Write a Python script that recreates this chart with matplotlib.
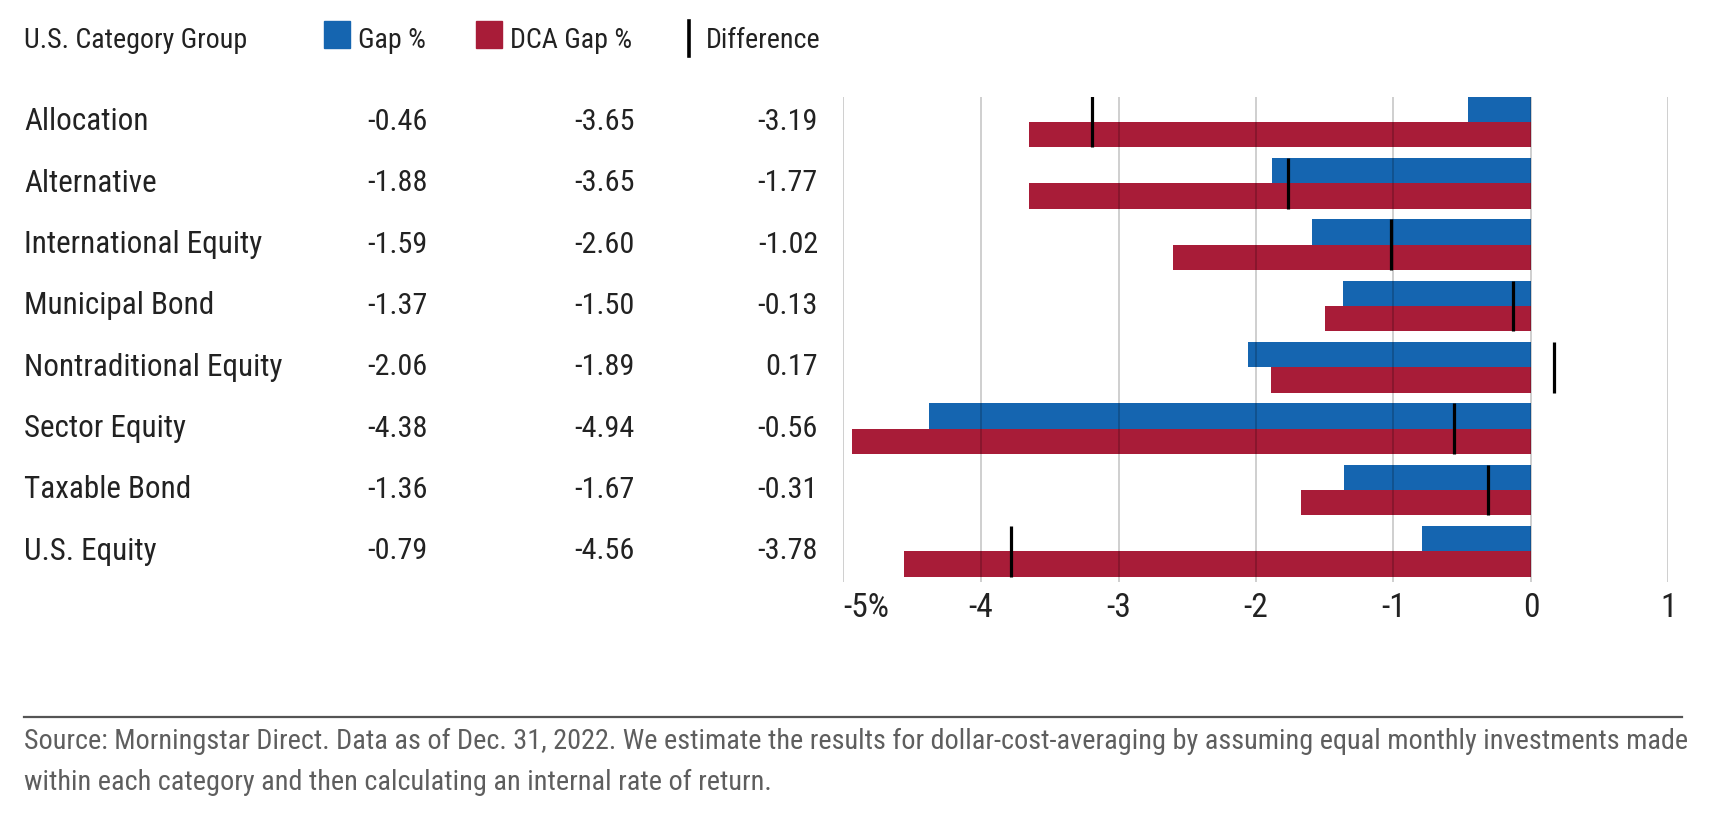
import matplotlib
matplotlib.use("Agg")
import matplotlib.pyplot as plt
import matplotlib.transforms as mtransforms
from matplotlib import font_manager as fm
from matplotlib.patches import Rectangle
from matplotlib.lines import Line2D

# ---------------- data ----------------
categories = ["Allocation", "Alternative", "International Equity", "Municipal Bond",
              "Nontraditional Equity", "Sector Equity", "Taxable Bond", "U.S. Equity"]
gap = [-0.46, -1.88, -1.59, -1.37, -2.06, -4.38, -1.36, -0.79]
dca_gap = [-3.65, -3.65, -2.60, -1.50, -1.89, -4.94, -1.67, -4.56]
difference = [-3.19, -1.77, -1.02, -0.13, 0.17, -0.56, -0.31, -3.78]
x_ticks = [-5, -4, -3, -2, -1, 0, 1]
x_tick_labels = ["-5%", "-4", "-3", "-2", "-1", "0", "1"]
header = "U.S. Category Group"
legend_labels = ["Gap %", "DCA Gap %", "Difference"]
source_lines = [
    "Source: Morningstar Direct. Data as of Dec. 31, 2022. We estimate the results for "
    "dollar-cost-averaging by assuming equal monthly investments made",
    "within each category and then calculating an internal rate of return.",
]

BLUE = "#1565b0"
RED = "#a81c38"
TEXT = "#222222"
GREY = "#5e5e5e"

# ---------------- font choice ----------------
names = {f.name for f in fm.fontManager.ttflist}
FAM, ST = "Roboto", "normal"
for cand in ["Roboto Condensed", "Liberation Sans Narrow", "Open Sans Condensed"]:
    if cand in names:
        FAM = cand
        break
else:
    if any(f.name == "DejaVu Sans" and f.stretch in ("condensed", "semi-condensed")
           for f in fm.fontManager.ttflist):
        FAM, ST = "DejaVu Sans", "condensed"
    elif "Roboto" not in names:
        FAM = "DejaVu Sans"

W, H = 1724, 814
fig = plt.figure(figsize=(W / 100, H / 100), dpi=100)
renderer = fig.canvas.get_renderer()


def fx(px):
    return px / W


def fy(py):
    return 1 - py / H


def text_width(s, size):
    t = fig.text(0, 0, s, fontsize=size, family=FAM, stretch=ST)
    w = t.get_window_extent(renderer).width
    t.remove()
    return w


def fit(s, target, base=20.0):
    return base * target / text_width(s, base)


row_size = fit(categories[0], 124)
num_size = fit("-0.46", 60)
header_size = fit(header, 223)
foot_size = fit(source_lines[0], 1658)
tick_size = row_size * 1.08

# ---------------- axes ----------------
ax_left, ax_right = 843.5, 1668.5
ax_top, ax_bottom = 96.5, 582
ax = fig.add_axes([fx(ax_left), fy(ax_bottom), (ax_right - ax_left) / W,
                   (ax_bottom - ax_top) / H])

h = 0.415
ypos = list(range(len(categories)))
ax.barh([y - h / 2 for y in ypos], gap, height=h, color=BLUE, zorder=1)
ax.barh([y + h / 2 for y in ypos], dca_gap, height=h, color=RED, zorder=1)
ax.vlines(difference, [y - h for y in ypos], [y + h for y in ypos],
          color="black", lw=2.3, zorder=4)

ax.set_xlim(-5, 1)
ax.set_ylim(len(categories) - 0.5, -h)
ax.set_xticks(x_ticks)
ax.set_xticklabels(x_tick_labels, family=FAM, stretch=ST, fontsize=tick_size, color=TEXT)
ax.get_xticklabels()[0].set_ha("left")
ax.set_yticks([])
ax.tick_params(axis="x", length=0, pad=7)
ax.set_axisbelow(False)
ax.grid(axis="x", color="black", alpha=0.22, lw=1.2)
for s in ax.spines.values():
    s.set_visible(False)

# ---------------- table ----------------
trans = mtransforms.blended_transform_factory(fig.transFigure, ax.transData)
for i, cat in enumerate(categories):
    kw = dict(transform=trans, va="center", family=FAM, stretch=ST, color=TEXT)
    fig.text(fx(24), i, cat, ha="left", fontsize=row_size, **kw)
    fig.text(fx(428), i, f"{gap[i]:.2f}", ha="right", fontsize=num_size, **kw)
    fig.text(fx(635), i, f"{dca_gap[i]:.2f}", ha="right", fontsize=num_size, **kw)
    fig.text(fx(818), i, f"{difference[i]:.2f}", ha="right", fontsize=num_size, **kw)

# ---------------- header / legend ----------------
base_y = 48.5
tkw = dict(ha="left", va="baseline", fontsize=header_size, family=FAM, stretch=ST, color=TEXT)
fig.text(fx(24), fy(base_y), header, **tkw)
sq_top, sq_h, sq_w = 21, 27, 26
fig.patches.append(Rectangle((fx(324), fy(sq_top + sq_h)), sq_w / W, sq_h / H,
                             transform=fig.transFigure, color=BLUE))
fig.text(fx(358), fy(base_y), legend_labels[0], **tkw)
fig.patches.append(Rectangle((fx(476), fy(sq_top + sq_h)), sq_w / W, sq_h / H,
                             transform=fig.transFigure, color=RED))
fig.text(fx(510), fy(base_y), legend_labels[1], **tkw)
fig.add_artist(Line2D([fx(689), fx(689)], [fy(21), fy(56)],
                      transform=fig.transFigure, color="black", lw=2.6))
fig.text(fx(706), fy(base_y), legend_labels[2], **tkw)

# ---------------- footer ----------------
fig.add_artist(Line2D([fx(24), fx(1682)], [fy(717), fy(717)],
                      transform=fig.transFigure, color="#555555", lw=1.6))
fig.text(fx(24), fy(741), source_lines[0], ha="left", va="center",
         fontsize=foot_size, family=FAM, stretch=ST, color=GREY)
fig.text(fx(24), fy(782), source_lines[1], ha="left", va="center",
         fontsize=foot_size, family=FAM, stretch=ST, color=GREY)

fig.savefig("out.png", dpi=100, facecolor="white")
